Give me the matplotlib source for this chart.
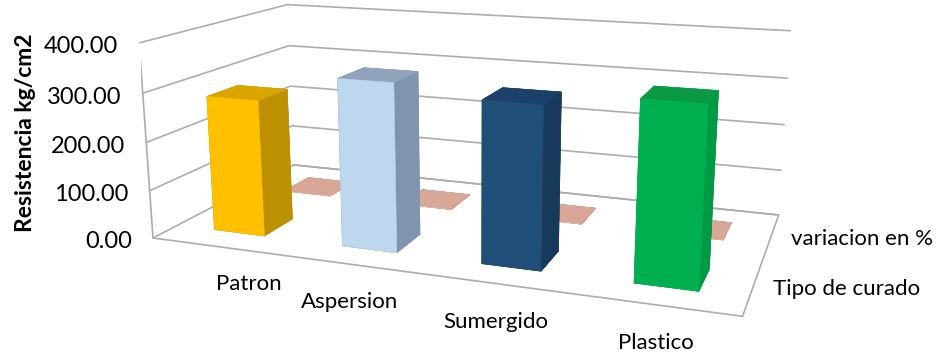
"""
Resistencia a compresión por tipo de curado - columnas 3D
"""
import numpy as np
import matplotlib
matplotlib.use('Agg')
import matplotlib.pyplot as plt
from mpl_toolkits.mplot3d import proj3d

plt.rcParams['font.family'] = ['Lato', 'DejaVu Sans']
plt.rcParams['grid.color'] = '#ADADAD'
plt.rcParams['grid.linewidth'] = 1.2

# datos
categorias = ['Patron', 'Aspersion', 'Sumergido', 'Plastico']
series = ['Tipo de curado', 'variacion en %']
resistencia = [282.0, 339.0, 319.0, 343.0]      # kg/cm2
variacion = [0.00, 0.20, 0.13, 0.22]
valores_eje = [0, 100, 200, 300, 400]
etiquetas_eje = ['0.00', '100.00', '200.00', '300.00', '400.00']

# colores de cada columna: frente, tapa, lado
color_frente = ['#FFC000', '#BDD7EE', '#1F4E79', '#00B050']
color_tapa = ['#DBA500', '#8FA3BC', '#1A416A', '#0A9A46']
color_lado = ['#BC9000', '#8194AE', '#17395B', '#009A44']
color_var = ('#E0AFA0', '#D9A797', '#C99A8A')

ANCHO = 0.4
GRIS = '#ADADAD'
FUENTE = 16
W, H = 939, 355

fig = plt.figure(figsize=(W / 100, H / 100), dpi=100)
ax = fig.add_subplot(projection='3d')
ax.set_proj_type('persp', focal_length=0.33)
ax.view_init(elev=14, azim=-70)
ax.set_box_aspect((4, 2, 1.36))

x0, x1 = -0.5, len(categorias) - 0.5
y0, y1 = -0.5, len(series) - 0.5
ax.set_xlim(x0, x1)
ax.set_ylim(y0, y1)
ax.set_zlim(0, 400)


def caras(frente, tapa, lado):
    # orden de caras en bar3d: -z, +z, -y, +y, -x, +x
    return [lado, tapa, frente, lado, lado, lado]


for fila, valores in enumerate([resistencia, variacion]):
    for i, v in enumerate(valores):
        if fila == 0:
            cols = caras(color_frente[i], color_tapa[i], color_lado[i])
        else:
            cols = caras(*color_var)
        ax.bar3d(i - ANCHO / 2, fila - ANCHO / 2, 0, ANCHO, ANCHO, v,
                 color=cols, edgecolor=cols, linewidth=0.4, shade=False)

# paredes blancas, solo rejilla horizontal
ax.set_xticks([])
ax.set_yticks([])
ax.set_zticks(valores_eje)
ax.zaxis.set_ticklabels([])
ax.zaxis.set_tick_params(labelleft=False, left=False)
ax.zaxis._axinfo['tick']['inward_factor'] = 0
ax.zaxis._axinfo['tick']['outward_factor'] = 0
for eje in (ax.xaxis, ax.yaxis, ax.zaxis):
    eje.set_pane_color((1, 1, 1, 1))
    eje.line.set_color((1, 1, 1, 0))
    eje.label.set_visible(False)
ax.xaxis.pane.set_edgecolor('white')
ax.yaxis.pane.set_edgecolor('white')
ax.zaxis.pane.set_edgecolor(GRIS)
ax.zaxis.pane.set_linewidth(1.2)
ax.plot([x0, x0], [y0, y0], [0, 400], color=GRIS, lw=1.2)

fig.text(0.027, 0.625, 'Resistencia kg/cm2', rotation=90, fontweight='bold',
         ha='center', va='center', fontsize=16.5)

# ubicar la caja 3D: esquinas frontales del piso
fig.canvas.draw()


def en_pantalla(x, y, z):
    px, py, _ = proj3d.proj_transform(x, y, z, ax.get_proj())
    return ax.transData.transform((px, py))


a = en_pantalla(x0, y0, 0)
b = en_pantalla(x1, y0, 0)
ta = np.array([153.0, H - 238.0])
tb = np.array([743.0, H - 313.0])
k = np.linalg.norm(tb - ta) / np.linalg.norm(b - a)
caja = ax.get_position()
lado = caja.width * W * k
centro = np.array([(caja.x0 + caja.width / 2) * W, (caja.y0 + caja.height / 2) * H])
centro = ta - k * (a - centro)
ax.set_position([centro[0] / W - lado / (2 * W), centro[1] / H - lado / (2 * H),
                 lado / W, lado / H])
fig.canvas.draw()


def rotulo(x, y, z, texto, dx, dy, tam=FUENTE, **kw):
    # texto plano en el punto proyectado, corrido dx, dy pixeles
    px, py = en_pantalla(x, y, z)
    fig.text((px + dx) / W, (py + dy) / H, texto, fontsize=tam, **kw)


# etiquetas del eje vertical
for v, t in zip(valores_eje, etiquetas_eje):
    rotulo(x0, y0, v, t, -21, -4, tam=17, ha='right', va='center')

# categorias y series
for i, nombre in enumerate(categorias):
    rotulo(i, y0, 0, nombre, 0, -38, ha='left' if i == 0 else 'center', va='center')
for fila, nombre in enumerate(series):
    rotulo(x1, fila, 0, nombre, 20, -3, ha='left', va='center')

fig.savefig('out.png', dpi=100, facecolor='white')
